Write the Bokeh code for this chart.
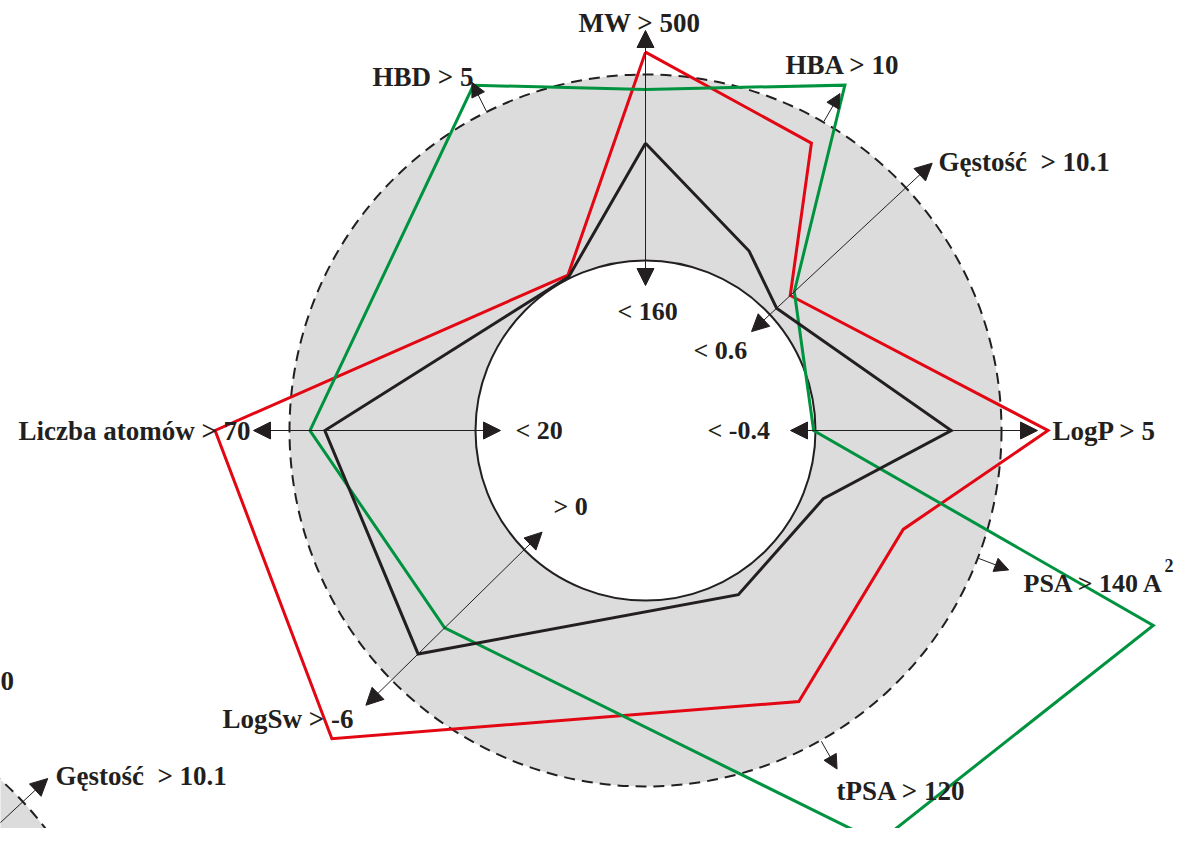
import numpy as np
from bokeh.plotting import figure
from bokeh.models import Arrow, NormalHead, ColumnDataSource
from bokeh.core.properties import value
from bokeh.embed import file_html
from bokeh.resources import INLINE

# ---------------- data ----------------
axes_names = ["MW", "HBA", "Gęstość", "LogP", "PSA", "tPSA", "LogSw", "Liczba atomów", "HBD"]
upper_labels = ["MW > 500", "HBA > 10", "Gęstość \u00a0> 10.1", "LogP > 5", "PSA > 140 A",
                "tPSA > 120", "LogSw > -6", "Liczba atomów > 70", "HBD > 5"]
lower_labels = ["< 160", "", "< 0.6", "< -0.4", "", "", "> 0", "< 20", ""]
# normalised values: 0 = inner circle (lower limit), 1 = dashed circle (upper limit)
black_vals = [0.63, 0.20, 0.05, 0.73, 0.11, 0.10, 0.80, 0.81, 0.01]
red_vals = [1.12, 0.87, 0.15, 1.25, 0.57, 0.76, 1.45, 1.40, 0.02]
green_vals = [0.92, 1.23, 0.18, -0.01, 2.01, 1.63, 0.60, 0.89, 1.16]

# ---------------- layout ----------------
R_IN, R_OUT = 170.0, 356.0
AX_ANG = [90, 60, 43, 0, -21, -60.5, 224.5, 180, 116.5]
INK = "#231f20"
RED = "#e30613"
GREEN = "#00933f"
GRAY = "#dcdcdc"
FONT = value("Liberation Serif")

# label anchor positions (left edge, vertical middle) relative to chart centre
upper_pos = [(-67, 408), (140, 366), (293, 269), (407, 0), (378, -153),
             (191, -360), (-423, -288), (-627, 0), (-273, 354)]
lower_pos = [(-28, 119), None, (48, 80), (62, 0), None, None, (-92, -76), (-130, 0), None]

p = figure(width=1175, height=828, x_range=(-645, 530), y_range=(-398, 430),
           output_backend="svg", toolbar_location=None,
           x_axis_location=None, y_axis_location=None, min_border=0,
           outline_line_color=None, background_fill_color="white",
           border_fill_color="white")
p.xgrid.visible = False
p.ygrid.visible = False


def head(size):
    return NormalHead(size=size, fill_color=INK, fill_alpha=1.0, line_color=INK, line_width=1)


def radar_background(cx, cy):
    p.annulus(x=[cx], y=[cy], inner_radius=R_IN, outer_radius=R_OUT,
              fill_color=GRAY, line_color=None)
    p.circle(x=[cx], y=[cy], radius=R_OUT, fill_color=None, line_color=INK,
             line_width=2, line_dash="11 7")
    p.circle(x=[cx], y=[cy], radius=R_IN, fill_color=None, line_color=INK, line_width=2)


def polar(r, ang, cx=0.0, cy=0.0):
    a = np.deg2rad(ang)
    return cx + r * np.cos(a), cy + r * np.sin(a)


# second (cropped) diagram in the lower-left corner
C2 = (-883.0, -614.0)
radar_background(*C2)
ang_g = AX_ANG[2]
xs2, ys2 = polar(145, ang_g, *C2)
xe2, ye2 = polar(390, ang_g, *C2)
p.add_layout(Arrow(x_start=xs2, y_start=ys2, x_end=xe2, y_end=ye2, line_color=INK,
                   line_width=1, end=head(17)))

# main diagram
radar_background(0.0, 0.0)

long_idx = [i for i, t in enumerate(lower_labels) if t]
short_idx = [i for i, t in enumerate(lower_labels) if not t]

ls = dict(xs=[], ys=[], xe=[], ye=[])
for i in long_idx:
    x0, y0 = polar(145, AX_ANG[i])
    x1, y1 = polar(392 if i else 400, AX_ANG[i])
    ls["xs"].append(x0); ls["ys"].append(y0); ls["xe"].append(x1); ls["ye"].append(y1)
p.add_layout(Arrow(x_start="xs", y_start="ys", x_end="xe", y_end="ye",
                   source=ColumnDataSource(ls), line_color=INK, line_width=1,
                   start=head(17), end=head(17)))

ss = dict(xs=[], ys=[], xe=[], ye=[])
for i in short_idx:
    x0, y0 = polar(R_OUT + 1, AX_ANG[i])
    x1, y1 = polar(389, AX_ANG[i])
    ss["xs"].append(x0); ss["ys"].append(y0); ss["xe"].append(x1); ss["ye"].append(y1)
p.add_layout(Arrow(x_start="xs", y_start="ys", x_end="xe", y_end="ye",
                   source=ColumnDataSource(ss), line_color=INK, line_width=1,
                   end=head(14)))

# series polygons
for vals, col in [(red_vals, RED), (green_vals, GREEN), (black_vals, INK)]:
    r = R_IN + np.array(vals) * (R_OUT - R_IN)
    x, y = polar(r, np.array(AX_ANG))
    x = list(x) + [x[0]]
    y = list(y) + [y[0]]
    p.line(x, y, line_color=col, line_width=3, line_join="miter")

# outer labels
ox = [q[0] for q in upper_pos]
oy = [q[1] for q in upper_pos]
ot = list(upper_labels)
osz = ["27px"] * len(ot)
osz[4] = "26px"
# labels of the cropped second diagram
ox += [-645, C2[0] + upper_pos[2][0]]
oy += [-250, C2[1] + upper_pos[2][1]]
ot += ["0", upper_labels[2]]
osz += ["27px", "27px"]
p.text(x=ox, y=oy, text=ot, text_font=FONT, text_font_style="bold",
       text_font_size=osz, text_color=INK, text_align="left", text_baseline="middle")

# inner labels
ix = [lower_pos[i][0] for i in long_idx]
iy = [lower_pos[i][1] for i in long_idx]
it = [lower_labels[i] for i in long_idx]
p.text(x=ix, y=iy, text=it, text_font=FONT, text_font_style="bold",
       text_font_size="26px", text_color=INK, text_align="left", text_baseline="middle")

# superscript of A^2
p.text(x=[519], y=[-135], text=["2"], text_font=FONT, text_font_style="bold",
       text_font_size="18px", text_color=INK, text_align="left", text_baseline="middle")

open("out.html", "w").write(file_html(p, INLINE))
